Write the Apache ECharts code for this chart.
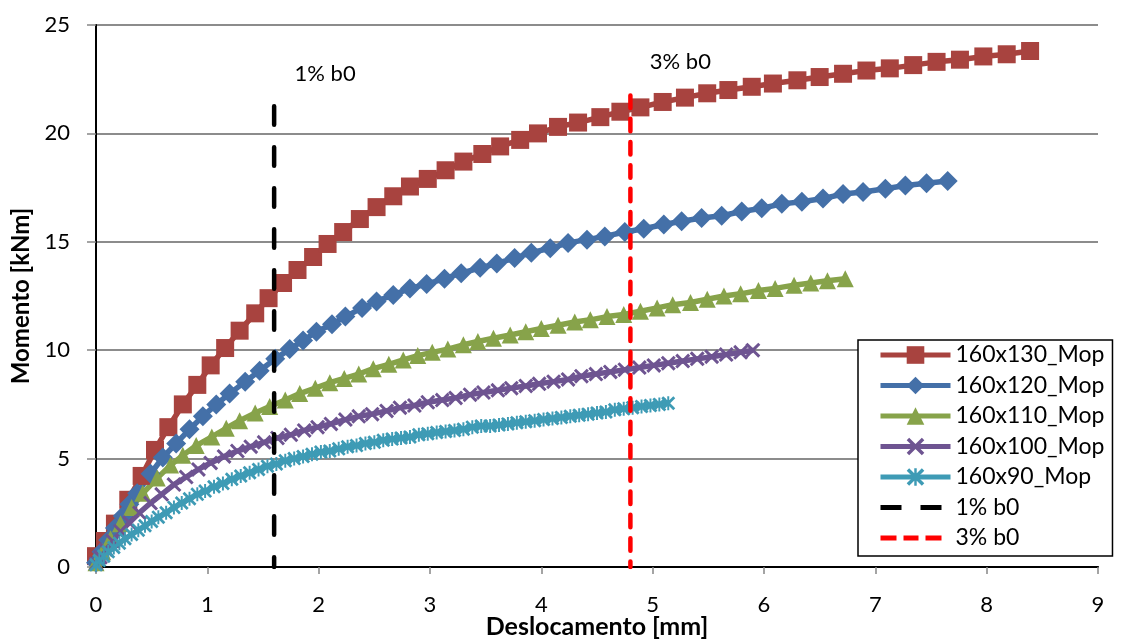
<!DOCTYPE html>
<html>
<head>
<meta charset="utf-8">
<script src="https://cdn.jsdelivr.net/npm/echarts@6/dist/echarts.min.js"></script>
<style>
html,body{margin:0;padding:0;background:#fff;}
#chart{width:1126px;height:639px;}
</style>
</head>
<body>
<div id="chart"></div>
<script>
// ---- data ----
const seriesNames = ['160x130_Mop','160x120_Mop','160x110_Mop','160x100_Mop','160x90_Mop','1% b0','3% b0'];

const s160x130 = [[0.00,0.5],[0.08,1.2],[0.17,2.0],[0.29,3.1],[0.41,4.2],[0.53,5.4],[0.65,6.45],[0.78,7.5],[0.91,8.4],[1.03,9.3],[1.16,10.1],[1.29,10.9],[1.43,11.7],[1.55,12.4],[1.68,13.1],[1.81,13.7],[1.95,14.3],[2.08,14.9],[2.22,15.45],[2.37,16.05],[2.52,16.6],[2.67,17.1],[2.82,17.55],[2.98,17.9],[3.14,18.3],[3.30,18.7],[3.47,19.05],[3.63,19.4],[3.81,19.7],[3.97,20.0],[4.15,20.3],[4.33,20.5],[4.53,20.75],[4.71,21.0],[4.89,21.2],[5.09,21.45],[5.29,21.65],[5.49,21.85],[5.68,22.0],[5.89,22.15],[6.08,22.3],[6.30,22.45],[6.50,22.6],[6.71,22.75],[6.92,22.9],[7.13,23.0],[7.34,23.15],[7.55,23.3],[7.76,23.4],[7.97,23.55],[8.18,23.65],[8.39,23.8]];

const s160x120 = [[0.00,0.2],[0.05,0.7],[0.11,1.25],[0.17,1.8],[0.24,2.35],[0.30,2.9],[0.37,3.4],[0.49,4.3],[0.60,5.05],[0.72,5.7],[0.84,6.35],[0.96,6.95],[1.08,7.5],[1.20,8.0],[1.34,8.55],[1.47,9.05],[1.61,9.6],[1.74,10.05],[1.86,10.45],[1.98,10.85],[2.12,11.2],[2.24,11.55],[2.39,11.95],[2.52,12.25],[2.67,12.55],[2.82,12.85],[2.97,13.05],[3.13,13.3],[3.28,13.55],[3.45,13.8],[3.60,14.0],[3.76,14.25],[3.91,14.5],[4.08,14.7],[4.24,14.95],[4.41,15.1],[4.57,15.25],[4.75,15.45],[4.92,15.6],[5.10,15.8],[5.26,15.95],[5.44,16.1],[5.62,16.2],[5.80,16.4],[5.98,16.55],[6.16,16.75],[6.34,16.85],[6.53,17.0],[6.71,17.2],[6.89,17.3],[7.09,17.45],[7.27,17.6],[7.46,17.7],[7.65,17.8]];

const s160x110 = [[0.00,0.2],[0.06,0.7],[0.13,1.3],[0.22,2.0],[0.32,2.75],[0.42,3.4],[0.55,4.1],[0.67,4.7],[0.78,5.15],[0.90,5.6],[1.04,6.0],[1.17,6.4],[1.29,6.75],[1.43,7.1],[1.56,7.4],[1.70,7.7],[1.83,8.0],[1.97,8.25],[2.10,8.5],[2.23,8.7],[2.36,8.9],[2.49,9.15],[2.63,9.35],[2.76,9.55],[2.89,9.75],[3.02,9.9],[3.16,10.05],[3.30,10.25],[3.43,10.4],[3.57,10.55],[3.72,10.7],[3.86,10.85],[4.00,11.0],[4.15,11.15],[4.30,11.3],[4.44,11.4],[4.59,11.55],[4.74,11.65],[4.89,11.8],[5.04,11.95],[5.18,12.1],[5.34,12.2],[5.49,12.35],[5.64,12.5],[5.79,12.6],[5.95,12.75],[6.10,12.85],[6.27,13.0],[6.42,13.1],[6.57,13.2],[6.73,13.3]];

const s160x100 = [[0.00,0.15],[0.04,0.45],[0.09,0.8],[0.15,1.2],[0.22,1.65],[0.30,2.05],[0.39,2.5],[0.49,2.95],[0.59,3.35],[0.70,3.8],[0.81,4.15],[0.92,4.5],[1.03,4.8],[1.15,5.1],[1.27,5.35],[1.39,5.55],[1.51,5.75],[1.63,5.95],[1.75,6.1],[1.87,6.3],[1.99,6.45],[2.11,6.6],[2.24,6.8],[2.36,6.95],[2.48,7.05],[2.61,7.2],[2.73,7.35],[2.86,7.45],[2.98,7.6],[3.11,7.7],[3.23,7.8],[3.36,7.95],[3.48,8.05],[3.61,8.15],[3.73,8.25],[3.86,8.35],[3.98,8.45],[4.11,8.55],[4.24,8.65],[4.36,8.8],[4.49,8.9],[4.62,9.0],[4.75,9.1],[4.88,9.2],[5.01,9.3],[5.14,9.4],[5.27,9.5],[5.40,9.6],[5.53,9.7],[5.66,9.8],[5.79,9.9],[5.90,10.0]];

const s160x90 = [[0.00,0.1],[0.03,0.3],[0.07,0.5],[0.11,0.7],[0.16,0.9],[0.21,1.1],[0.26,1.3],[0.32,1.5],[0.38,1.7],[0.44,1.9],[0.50,2.1],[0.56,2.3],[0.63,2.5],[0.70,2.75],[0.77,2.95],[0.84,3.15],[0.91,3.35],[0.98,3.5],[1.06,3.7],[1.14,3.85],[1.22,4.05],[1.30,4.2],[1.38,4.35],[1.46,4.5],[1.54,4.65],[1.62,4.75],[1.70,4.9],[1.78,5.0],[1.86,5.1],[1.94,5.2],[2.02,5.3],[2.10,5.35],[2.18,5.45],[2.26,5.55],[2.34,5.6],[2.42,5.7],[2.50,5.75],[2.58,5.85],[2.66,5.9],[2.74,5.95],[2.82,6.0],[2.90,6.1],[2.98,6.15],[3.06,6.2],[3.14,6.25],[3.22,6.3],[3.30,6.35],[3.38,6.45],[3.46,6.5],[3.54,6.5],[3.62,6.55],[3.70,6.6],[3.78,6.65],[3.86,6.7],[3.94,6.75],[4.02,6.8],[4.10,6.85],[4.18,6.9],[4.26,6.95],[4.34,7.0],[4.42,7.05],[4.50,7.1],[4.58,7.15],[4.66,7.25],[4.74,7.3],[4.82,7.35],[4.90,7.4],[4.98,7.45],[5.06,7.5],[5.14,7.55]];

// vertical reference lines (top first so the dash pattern starts at the top)
const line1pct = [[1.6,21.25],[1.6,0]];
const line3pct = [[4.8,21.75],[4.8,0]];

const xTicks = [0,1,2,3,4,5,6,7,8,9];
const yTicks = [0,5,10,15,20,25];
const xTitle = 'Deslocamento [mm]';
const yTitle = 'Momento [kNm]';

// ---- styling ----
const FONT = 'Lato';
const colors = ['#A8433F','#4470A8','#87A34A','#6E5491','#3E9BB5','#000000','#FF0000'];
const xSymbol = 'path://M0,1.4 L1.4,0 L5,3.6 L8.6,0 L10,1.4 L6.4,5 L10,8.6 L8.6,10 L5,6.4 L1.4,10 L0,8.6 L3.6,5 Z';
const starSymbol = 'path://M0,1.4 L1.4,0 L5,3.6 L8.6,0 L10,1.4 L6.4,5 L10,8.6 L8.6,10 L5,6.4 L1.4,10 L0,8.6 L3.6,5 Z M4.3,0 L5.7,0 L5.7,10 L4.3,10 Z';
// legend icons for dashed lines (box 70x22, dashes on the middle)
const frame = 'M0,0 L0.01,0 L0,0.01 Z M69.99,22 L70,22 L70,21.99 Z ';
const dashIconLong = 'path://' + frame + 'M0,8.5 L21,8.5 L21,13.5 L0,13.5 Z M40,8.5 L61,8.5 L61,13.5 L40,13.5 Z';
const dashIconShort = 'path://' + frame + 'M0,8.5 L16,8.5 L16,13.5 L0,13.5 Z M23,8.5 L38,8.5 L38,13.5 L23,13.5 Z M45,8.5 L61,8.5 L61,13.5 L45,13.5 Z';

function dataSeries(name, data, color, symbol, size, width) {
  return {
    name: name, type: 'line', data: data,
    symbol: symbol, symbolSize: size, showSymbol: true,
    lineStyle: {color: color, width: width},
    itemStyle: {color: color},
    smooth: false, z: 2
  };
}

function refLine(name, data, color, dash, offset) {
  return {
    name: name, type: 'line', data: data, z: 5,
    symbol: 'circle', symbolSize: 1, showSymbol: true,
    lineStyle: {color: color, width: 4.5, type: dash, cap: 'round'},
    itemStyle: {color: color},
    label: {show: true, position: 'top', fontFamily: FONT, fontSize: 22, color: '#000',
      formatter: p => p.dataIndex === 0 ? name : '', offset: offset}
  };
}

const chart = echarts.init(document.getElementById('chart'), null, {renderer: 'canvas'});
chart.setOption({
  animation: false,
  backgroundColor: '#ffffff',
  textStyle: {fontFamily: FONT},
  grid: {left: 96, right: 28, top: 25, bottom: 72, containLabel: false, outerBoundsMode: 'none'},
  legend: {
    orient: 'vertical',
    left: 858, top: 340,
    padding: [3, 8, 6, 20],
    itemWidth: 70, itemHeight: 22, itemGap: 6.5,
    backgroundColor: '#ffffff',
    borderColor: '#000000', borderWidth: 1.5,
    lineStyle: {width: 5},
    textStyle: {fontFamily: FONT, fontSize: 23, lineHeight: 24, color: '#000'},
    data: [
      {name: seriesNames[0]}, {name: seriesNames[1]}, {name: seriesNames[2]},
      {name: seriesNames[3]}, {name: seriesNames[4]},
      {name: seriesNames[5], icon: dashIconLong},
      {name: seriesNames[6], icon: dashIconShort}
    ]
  },
  xAxis: [{
    type: 'value', min: 0, max: 9, interval: 1,
    name: xTitle, nameLocation: 'middle', nameGap: 47, nameMoveOverlap: false,
    nameTextStyle: {fontFamily: FONT, fontSize: 25, fontWeight: 'bold', color: '#000'},
    axisLine: {show: true, onZero: false, lineStyle: {color: '#868686', width: 2}},
    axisTick: {show: true, inside: false, length: 7, lineStyle: {color: '#868686', width: 1.5}},
    axisLabel: {margin: 27, fontFamily: FONT, fontSize: 22, color: '#000',
      formatter: v => xTicks.includes(v) ? String(v) : ''},
    splitLine: {show: false}
  }, {
    type: 'value', min: 0, max: 9, position: 'top',
    axisLine: {show: true, lineStyle: {color: '#000', width: 2}},
    axisTick: {show: false}, axisLabel: {show: false}, splitLine: {show: false}
  }],
  yAxis: [{
    type: 'value', min: 0, max: 25, interval: 5,
    name: yTitle, nameLocation: 'middle', nameGap: 62, nameRotate: 90,
    nameTextStyle: {fontFamily: FONT, fontSize: 24, fontWeight: 'bold', color: '#000'},
    axisLine: {show: true, onZero: false, lineStyle: {color: '#868686', width: 2}},
    axisTick: {show: true, inside: false, length: 9, lineStyle: {color: '#868686', width: 1.5}},
    axisLabel: {margin: 26, fontFamily: FONT, fontSize: 22, color: '#000',
      formatter: v => yTicks.includes(v) ? String(v) : ''},
    splitLine: {show: true, lineStyle: {color: '#8C8C8C', width: 2}}
  }, {
    type: 'value', min: 0, max: 25, position: 'right',
    axisLine: {show: true, lineStyle: {color: '#000', width: 2}},
    axisTick: {show: false}, axisLabel: {show: false}, splitLine: {show: false}
  }],
  series: [
    dataSeries(seriesNames[0], s160x130, colors[0], 'rect', 18, 5.5),
    dataSeries(seriesNames[1], s160x120, colors[1], 'diamond', 20, 5.5),
    dataSeries(seriesNames[2], s160x110, colors[2], 'triangle', 17, 5.5),
    dataSeries(seriesNames[3], s160x100, colors[3], xSymbol, 15, 5.5),
    dataSeries(seriesNames[4], s160x90, colors[4], starSymbol, 14, 5.5),
    refLine(seriesNames[5], line1pct, colors[5], [18.5, 22.5], [51, -16]),
    refLine(seriesNames[6], line3pct, colors[6], [12.5, 10.8], [50, -17])
  ]
});
</script>
</body>
</html>
